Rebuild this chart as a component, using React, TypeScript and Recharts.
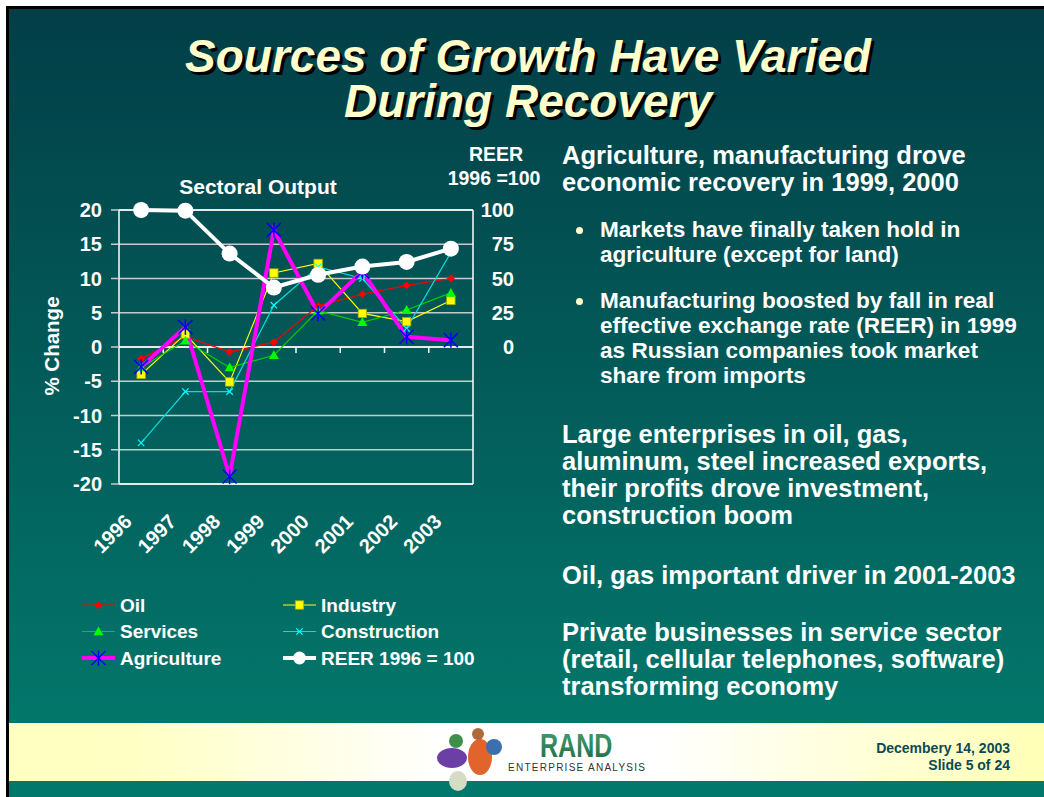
import React from 'react';
import { ComposedChart, Line, XAxis, YAxis, CartesianGrid, ReferenceLine } from 'recharts';

const FONT = "'Liberation Sans', Arial, Helvetica, sans-serif";

// ---- data ----
const years = ['1996', '1997', '1998', '1999', '2000', '2001', '2002', '2003'];
const oil = [-1.7, 1.5, -0.7, 0.7, 6.0, 7.7, 9.0, 10.0];
const industry = [-4.0, 1.9, -5.1, 10.8, 12.2, 4.9, 3.7, 6.8];
const services = [-3.0, 0.9, -3.0, -1.2, 5.3, 3.6, 5.4, 7.9];
const construction = [-14.0, -6.5, -6.5, 6.1, 11.7, 10.0, 2.7, 13.8];
const agriculture = [-2.9, 2.9, -18.9, 17.1, 4.9, 11.0, 1.5, 1.0];
const reer = [100, 99.5, 68.2, 43.4, 52.7, 58.7, 62.1, 71.8];
const leftTicks = [20, 15, 10, 5, 0, -5, -10, -15, -20];
const rightTicks = [100, 75, 50, 25, 0];

type Marker = 'diamond' | 'square' | 'triangle' | 'x' | 'asterisk' | 'circle';
interface SeriesDef {
  key: string;
  name: string;
  values: number[];
  axis: 'left' | 'right';
  color: string;
  width: number;
  marker: Marker;
}

const series: SeriesDef[] = [
  { key: 'oil', name: 'Oil', values: oil, axis: 'left', color: '#ff0000', width: 1.2, marker: 'diamond' },
  { key: 'industry', name: 'Industry', values: industry, axis: 'left', color: '#ffff00', width: 1.2, marker: 'square' },
  { key: 'services', name: 'Services', values: services, axis: 'left', color: '#00d000', width: 1.2, marker: 'triangle' },
  { key: 'construction', name: 'Construction', values: construction, axis: 'left', color: '#00e0e0', width: 1.2, marker: 'x' },
  { key: 'agriculture', name: 'Agriculture', values: agriculture, axis: 'left', color: '#ff00ff', width: 4, marker: 'asterisk' },
  { key: 'reer', name: 'REER 1996 = 100', values: reer, axis: 'right', color: '#ffffff', width: 4, marker: 'circle' },
];

const data = years.map((year, i) => {
  const row: Record<string, string | number> = { year };
  series.forEach((s) => {
    row[s.key] = s.values[i];
  });
  return row;
});

const PLOT_WIDTH = 354;
const HALF_BAND = PLOT_WIDTH / years.length / 2;

function renderMarker(type: Marker, cx: number, cy: number, scale = 1) {
  switch (type) {
    case 'diamond': {
      const r = 4 * scale;
      return <path d={`M${cx},${cy - r}L${cx + r},${cy}L${cx},${cy + r}L${cx - r},${cy}Z`} fill="#ff0000" />;
    }
    case 'square': {
      const h = 4.2 * scale;
      return <rect x={cx - h} y={cy - h} width={2 * h} height={2 * h} fill="#ffff00" stroke="#b0a800" strokeWidth={0.8} />;
    }
    case 'triangle': {
      const h = 5 * scale;
      return <path d={`M${cx},${cy - h}L${cx + h},${cy + h * 0.75}L${cx - h},${cy + h * 0.75}Z`} fill="#00ff00" />;
    }
    case 'x': {
      const h = 3.2 * scale;
      return (
        <g stroke="#00ffff" strokeWidth={1.2}>
          <line x1={cx - h} y1={cy - h} x2={cx + h} y2={cy + h} />
          <line x1={cx - h} y1={cy + h} x2={cx + h} y2={cy - h} />
        </g>
      );
    }
    case 'asterisk': {
      const h = 7 * scale;
      return (
        <g stroke="#0000ff" strokeWidth={1.5}>
          <line x1={cx - h} y1={cy - h} x2={cx + h} y2={cy + h} />
          <line x1={cx - h} y1={cy + h} x2={cx + h} y2={cy - h} />
          <line x1={cx} y1={cy - h * 1.1} x2={cx} y2={cy + h * 1.1} />
        </g>
      );
    }
    case 'circle':
    default:
      return <circle cx={cx} cy={cy} r={8 * scale} fill="#ffffff" />;
  }
}

const makeDot = (s: SeriesDef) => (props: any) => {
  const { cx, cy, index } = props;
  if (cx == null || cy == null) return <g key={`${s.key}-${index}`} />;
  return <g key={`${s.key}-${index}`}>{renderMarker(s.marker, cx, cy)}</g>;
};

const XTick = (props: any) => {
  const { x, y, payload } = props;
  const ax = x - 8;
  const ay = y + 39;
  return (
    <text x={ax} y={ay} transform={`rotate(-45 ${ax} ${ay})`} textAnchor="end" fill="#ffffff" fontSize={20} fontWeight="bold" fontFamily={FONT}>
      {payload.value}
    </text>
  );
};

const RTick = (props: any) => {
  const { x, y, payload } = props;
  return (
    <text x={x + 41} y={y} dy="0.355em" textAnchor="end" fill="#ffffff" fontSize={20} fontWeight="bold" fontFamily={FONT}>
      {payload.value}
    </text>
  );
};

const ZeroAxis = (props: any) => {
  const { x1, y1, x2 } = props;
  if (x1 == null) return <g />;
  const lo = Math.min(x1, x2);
  const hi = Math.max(x1, x2);
  const n = years.length;
  const step = (hi - lo) / n;
  return (
    <g>
      <line x1={lo} y1={y1} x2={hi} y2={y1} stroke="#ffffff" strokeWidth={1.5} />
      {years.slice(1).map((_, i) => (
        <line key={i} x1={lo + step * (i + 1)} x2={lo + step * (i + 1)} y1={y1} y2={y1 + 6} stroke="#ffffff" strokeWidth={1.5} />
      ))}
    </g>
  );
};

const textStyle: React.CSSProperties = {
  position: 'absolute',
  color: '#ffffff',
  fontFamily: FONT,
  fontWeight: 'bold',
  whiteSpace: 'nowrap',
};

const Header = ({ top, lines }: { top: number; lines: string[] }) => (
  <div style={{ ...textStyle, left: 562, top, fontSize: 25.5, lineHeight: '27px' }}>
    {lines.map((l, i) => (
      <div key={i}>{l}</div>
    ))}
  </div>
);

const Bullet = ({ top, lines }: { top: number; lines: string[] }) => (
  <>
    <div style={{ position: 'absolute', left: 576, top: top + 10, width: 7, height: 7, borderRadius: 4, background: '#ffffcc' }} />
    <div style={{ ...textStyle, left: 600, top, fontSize: 22.6, lineHeight: '25px' }}>
      {lines.map((l, i) => (
        <div key={i}>{l}</div>
      ))}
    </div>
  </>
);

const Legend = () => (
  <svg style={{ position: 'absolute', left: 0, top: 0 }} width={560} height={690}>
    {series.map((s, i) => {
      const col = i % 2;
      const row = Math.floor(i / 2);
      const lx = col === 0 ? 82 : 283;
      const cy = 605 + row * 26.5;
      return (
        <g key={s.key}>
          <line x1={lx} x2={lx + 33} y1={cy} y2={cy} stroke={s.color} strokeWidth={s.width} />
          {renderMarker(s.marker, lx + 16.5, cy, s.marker === 'circle' ? 0.8 : 1)}
          <text x={lx + 38} y={cy} dy="0.355em" fill="#ffffff" fontSize={19} fontWeight="bold" fontFamily={FONT}>
            {s.name}
          </text>
        </g>
      );
    })}
  </svg>
);

export default function App() {
  return (
    <div style={{ position: 'absolute', left: 0, top: 0, width: 1044, height: 797, background: '#ffffff', overflow: 'hidden', fontFamily: FONT }}>
      <div
        style={{
          position: 'absolute',
          left: 6,
          top: 6,
          width: 1038,
          height: 791,
          boxSizing: 'border-box',
          borderLeft: '3px solid #000',
          borderTop: '3px solid #000',
          background: 'linear-gradient(180deg, #023e47 0%, #03766a 90%, #02786c 100%)',
        }}
      />
      {/* title */}
      <div
        style={{
          position: 'absolute',
          left: 0,
          width: 1056,
          top: 34,
          textAlign: 'center',
          fontSize: 46,
          lineHeight: '45px',
          fontWeight: 'bold',
          fontStyle: 'italic',
          color: '#ffffcc',
          textShadow: '3px 3px 0 #000',
          fontFamily: FONT,
          whiteSpace: 'nowrap',
        }}
      >
        <div style={{ height: 45 }}>Sources of Growth Have Varied</div>
        <div style={{ height: 45 }}>During Recovery</div>
      </div>

      {/* chart */}
      <div style={{ position: 'absolute', left: 0, top: 0 }}>
        <ComposedChart width={560} height={690} data={data} margin={{ top: 210, right: 27, bottom: 146, left: 0 }}>
          <CartesianGrid yAxisId="left" vertical={false} stroke="#c4cccc" strokeWidth={1.5} />
          <XAxis
            dataKey="year"
            axisLine={false}
            tickLine={false}
            tickSize={0}
            tickMargin={0}
            height={60}
            tick={<XTick />}
            interval={0}
            padding={{ left: HALF_BAND, right: HALF_BAND }}
          />
          <YAxis
            yAxisId="left"
            domain={[-20, 20]}
            ticks={leftTicks}
            width={119}
            tickSize={8}
            tickMargin={9}
            interval={0}
            axisLine={{ stroke: '#ffffff', strokeWidth: 1.5 }}
            tickLine={{ stroke: '#c4cccc', strokeWidth: 1.5 }}
            tick={{ fill: '#ffffff', fontSize: 20, fontWeight: 'bold', fontFamily: FONT }}
          />
          <YAxis
            yAxisId="right"
            orientation="right"
            domain={[-100, 100]}
            ticks={rightTicks}
            width={60}
            tickSize={0}
            tickMargin={0}
            interval={0}
            axisLine={{ stroke: '#ffffff', strokeWidth: 1.5 }}
            tickLine={false}
            tick={<RTick />}
          />
          <ReferenceLine yAxisId="left" y={20} stroke="#ffffff" strokeWidth={1.5} />
          <ReferenceLine yAxisId="left" y={-20} stroke="#ffffff" strokeWidth={1.5} />
          <ReferenceLine yAxisId="left" y={0} shape={ZeroAxis} />
          {series.map((s) => (
            <Line
              key={s.key}
              yAxisId={s.axis}
              dataKey={s.key}
              name={s.name}
              type="linear"
              stroke={s.color}
              strokeWidth={s.width}
              dot={makeDot(s)}
              activeDot={false}
              isAnimationActive={false}
            />
          ))}
        </ComposedChart>
      </div>

      {/* chart labels */}
      <svg style={{ position: 'absolute', left: 0, top: 0 }} width={560} height={420}>
        <text x={258} y={194} textAnchor="middle" fill="#ffffff" fontSize={21} fontWeight="bold" fontFamily={FONT}>
          Sectoral Output
        </text>
        <text x={496} y={161} textAnchor="middle" fill="#ffffff" fontSize={19.5} fontWeight="bold" fontFamily={FONT}>
          REER
        </text>
        <text x={494} y={185} textAnchor="middle" fill="#ffffff" fontSize={19.5} fontWeight="bold" fontFamily={FONT}>
          1996 =100
        </text>
        <text x={59} y={346} transform="rotate(-90 59 346)" textAnchor="middle" fill="#ffffff" fontSize={20.5} fontWeight="bold" fontFamily={FONT}>
          % Change
        </text>
      </svg>
      <Legend />

      {/* right text */}
      <Header top={142} lines={['Agriculture, manufacturing drove', 'economic recovery in 1999, 2000']} />
      <Bullet top={217} lines={['Markets have finally taken hold in', 'agriculture (except for land)']} />
      <Bullet top={288} lines={['Manufacturing boosted by fall in real', 'effective exchange rate (REER) in 1999', 'as Russian companies took market', 'share from imports']} />
      <Header top={421} lines={['Large enterprises in oil, gas,', 'aluminum, steel increased exports,', 'their profits drove investment,', 'construction boom']} />
      <Header top={562} lines={['Oil, gas important driver in 2001-2003']} />
      <Header top={619} lines={['Private businesses in service sector', '(retail, cellular telephones, software)', 'transforming economy']} />

      {/* footer */}
      <div
        style={{
          position: 'absolute',
          left: 9,
          top: 723,
          width: 1035,
          height: 58,
          background: 'linear-gradient(90deg, #ffffc0 0%, #ffffc4 12%, #ffffff 42%, #ffffff 63%, #ffffb6 100%)',
        }}
      />
      <svg style={{ position: 'absolute', left: 0, top: 700 }} width={1044} height={97}>
        <defs>
          <linearGradient id="randg" x1="0" y1="0" x2="0" y2="1">
            <stop offset="0%" stopColor="#4aa070" />
            <stop offset="100%" stopColor="#1f6a48" />
          </linearGradient>
        </defs>
        {/* puzzle logo */}
        <ellipse cx={452} cy={58} rx={15} ry={10} fill="#6b3fa6" />
        <circle cx={456} cy={41} r={7} fill="#3f8f4a" />
        <ellipse cx={480} cy={57} rx={12} ry={18} fill="#e0642c" />
        <circle cx={478} cy={34} r={6} fill="#b06a3a" />
        <circle cx={494} cy={47} r={8} fill="#3d6fae" />
        <ellipse cx={458} cy={81} rx={9} ry={10} fill="#d4dcc4" />
        <g transform="translate(540 57) scale(0.76 1)">
          <text x={0} y={0} fill="url(#randg)" fontSize={33} fontWeight="bold" fontFamily={FONT}>
            RAND
          </text>
        </g>
        <text x={508} y={71} textLength={137} lengthAdjust="spacing" fill="#333333" fontSize={10} fontFamily={FONT}>
          ENTERPRISE ANALYSIS
        </text>
        <text x={1010} y={53} textAnchor="end" fill="#0b4a52" fontSize={14} fontWeight="bold" fontFamily={FONT}>
          Decembery 14, 2003
        </text>
        <text x={1010} y={70} textAnchor="end" fill="#0b4a52" fontSize={14} fontWeight="bold" fontFamily={FONT}>
          Slide 5 of 24
        </text>
      </svg>
    </div>
  );
}
